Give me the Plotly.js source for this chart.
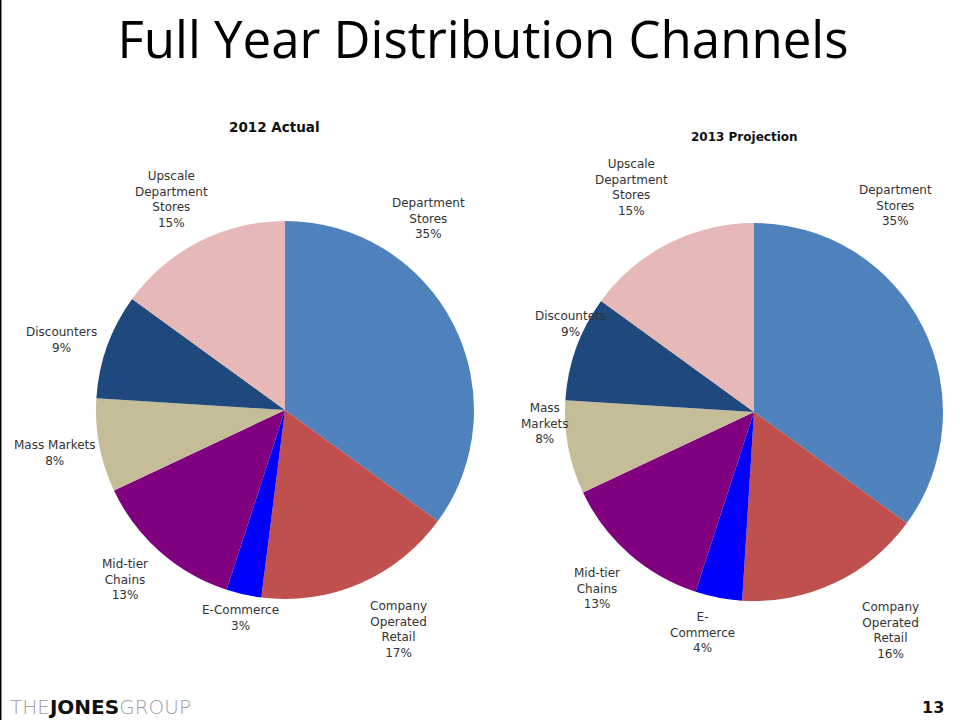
<!DOCTYPE html>
<html>
<head>
<meta charset="utf-8">
<script src="https://cdn.plot.ly/plotly-3.0.1.min.js"></script>
<style>
  html, body { margin: 0; padding: 0; background: #fff; }
  #chart { width: 960px; height: 720px; }
</style>
</head>
<body>
<div id="chart"></div>
<script>
// ---- data ----
const categories = ["Department Stores", "Company Operated Retail", "E-Commerce", "Mid-tier Chains", "Mass Markets", "Discounters", "Upscale Department Stores"];
const values2012 = [35, 17, 3, 13, 8, 9, 15];
const values2013 = [35, 16, 4, 13, 8, 9, 15];
const labels2012 = ["Department<br>Stores", "Company<br>Operated<br>Retail", "E-Commerce", "Mid-tier<br>Chains", "Mass Markets", "Discounters", "Upscale<br>Department<br>Stores"];
const labels2013 = ["Department<br>Stores", "Company<br>Operated<br>Retail", "E-<br>Commerce", "Mid-tier<br>Chains", "Mass<br>Markets", "Discounters", "Upscale<br>Department<br>Stores"];
const sliceColors = ["#4F81BD", "#C0504D", "#0000FF", "#800080", "#C4BD97", "#1F497D", "#E6B9B8"];

// ---- layout (label centres in pixels) ----
const W = 960, H = 720;
const pos2012 = [[428, 218], [398, 629], [240, 618], [125, 579], [55, 453], [61, 340], [171, 199]];
const pos2013 = [[895, 205], [890, 630], [702, 632], [597, 588], [545, 423], [570, 324], [631, 188]];

function pieTrace(vals, cx, cy, r) {
  return {
    type: "pie",
    values: vals,
    labels: categories,
    sort: false,
    direction: "clockwise",
    rotation: 0,
    textinfo: "none",
    hoverinfo: "label+percent",
    marker: { colors: sliceColors, line: { width: 0 } },
    showlegend: false,
    domain: {
      x: [(cx - r) / W, (cx + r) / W],
      y: [1 - (cy + r) / H, 1 - (cy - r) / H]
    }
  };
}

const labelFont = { family: "DejaVu Sans, sans-serif", size: 12, color: "#333333" };
const annotations = [];
function addLabels(lbls, vals, pos) {
  lbls.forEach((l, i) => {
    annotations.push({
      xref: "paper", yref: "paper",
      x: pos[i][0] / W, y: 1 - pos[i][1] / H,
      xanchor: "center", yanchor: "middle",
      text: l + "<br>" + vals[i] + "%",
      showarrow: false, align: "center",
      font: labelFont
    });
  });
}
addLabels(labels2012, values2012, pos2012);
addLabels(labels2013, values2013, pos2013);

annotations.push(
  { xref: "paper", yref: "paper", x: 274 / W, y: 1 - 127 / H, xanchor: "center", yanchor: "middle",
    text: "<b>2012 Actual</b>", showarrow: false, font: { family: "DejaVu Sans, sans-serif", size: 13.5, color: "#111" } },
  { xref: "paper", yref: "paper", x: 744 / W, y: 1 - 137 / H, xanchor: "center", yanchor: "middle",
    text: "<b>2013 Projection</b>", showarrow: false, font: { family: "DejaVu Sans, sans-serif", size: 12, color: "#111" } },
  { xref: "paper", yref: "paper", x: 8 / W, y: 1 - 707 / H, xanchor: "left", yanchor: "middle",
    text: "<span style='color:#a0a0a0'>THE</span><b style='color:#111'>JONES</b><span style='color:#a0a0a0'>GROUP</span>",
    showarrow: false, font: { family: "DejaVu Sans, sans-serif", size: 20, color: "#a0a0a0", weight: 300 } },
  { xref: "paper", yref: "paper", x: 933 / W, y: 1 - 707 / H, xanchor: "center", yanchor: "middle",
    text: "<b>13</b>", showarrow: false, font: { family: "DejaVu Sans, sans-serif", size: 16, color: "#111" } }
);

const layout = {
  width: W, height: H,
  margin: { l: 0, r: 0, t: 0, b: 0 },
  paper_bgcolor: "#ffffff",
  title: {
    text: "Full Year Distribution Channels",
    x: 483 / W, xanchor: "center",
    y: 1 - 40 / H, yanchor: "middle",
    font: { family: "Open Sans, sans-serif", size: 51, color: "#000", weight: 400 }
  },
  annotations: annotations,
  shapes: [
    { type: "line", xref: "paper", yref: "paper", x0: 0.0005, x1: 0.0005, y0: 0, y1: 1, line: { color: "#000", width: 2 } }
  ]
};

Plotly.newPlot("chart", [
  pieTrace(values2012, 285, 410, 189),
  pieTrace(values2013, 754, 412, 189)
], layout, { displayModeBar: false, staticPlot: true });
</script>
</body>
</html>
